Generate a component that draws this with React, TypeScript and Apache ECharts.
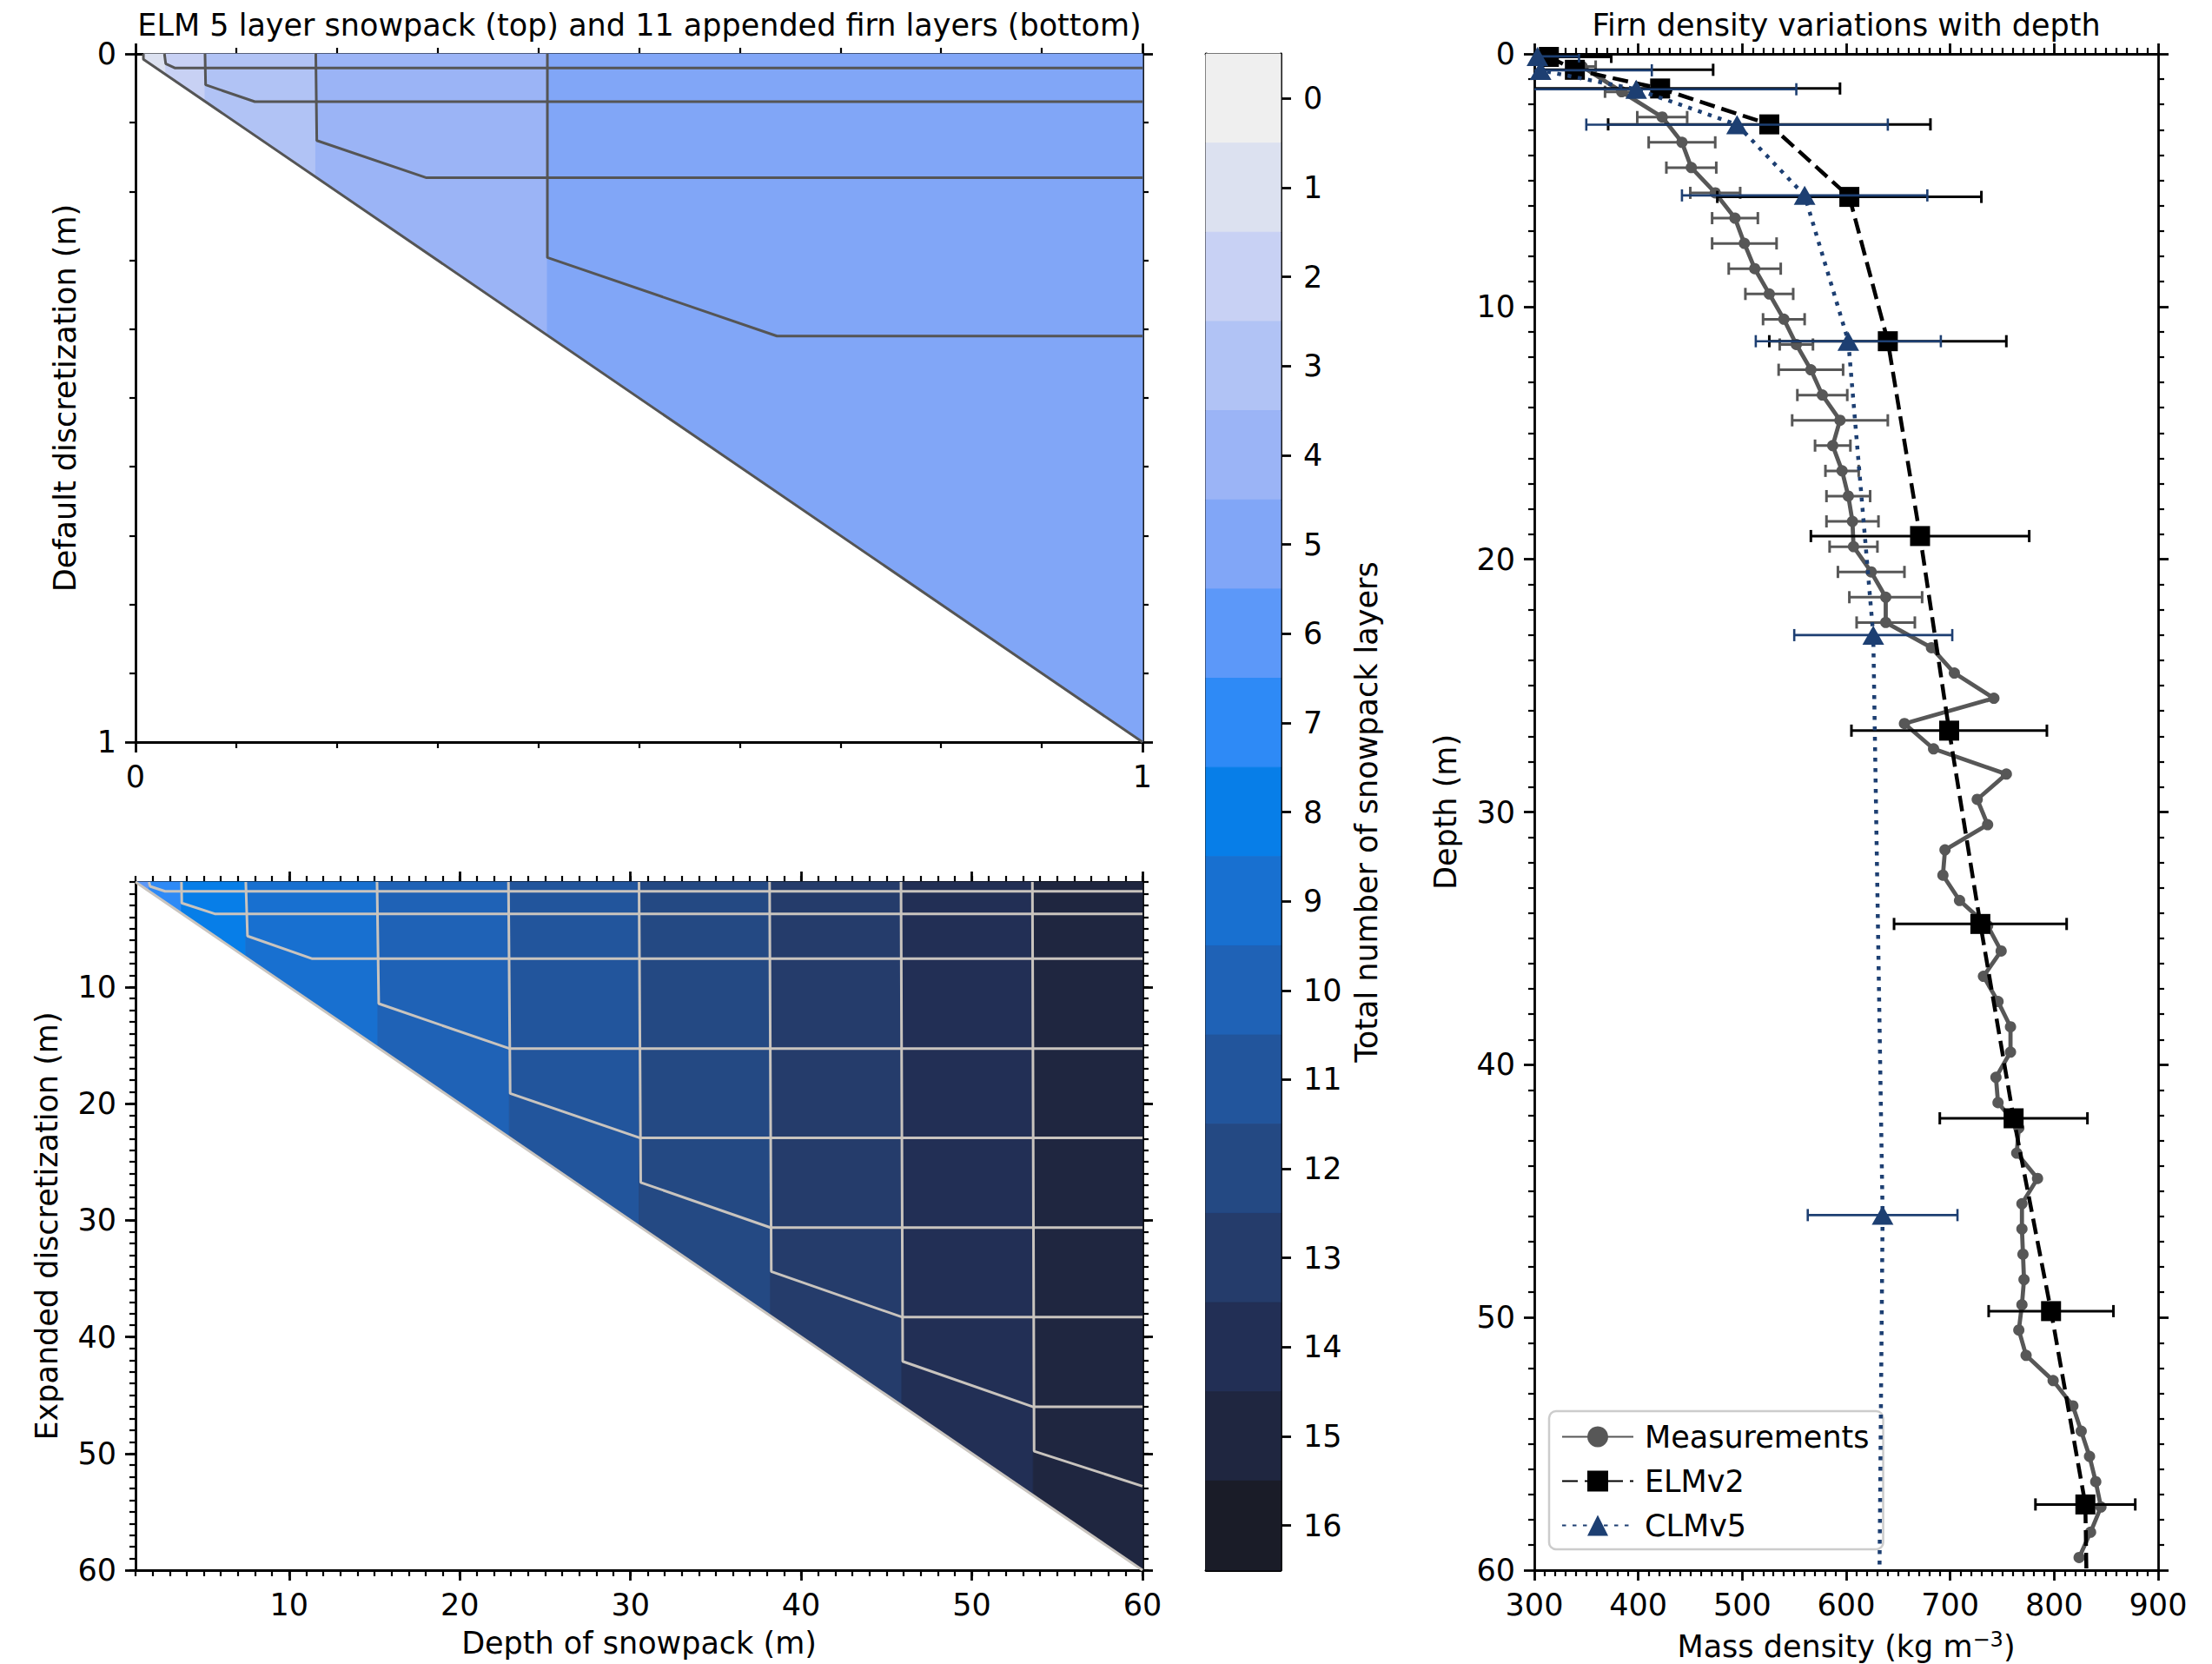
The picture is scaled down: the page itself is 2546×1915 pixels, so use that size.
import React, { useEffect, useRef } from "react";
import * as echarts from "echarts";

const W = 2546;
const H = 1915;
const FONT = "DejaVu Sans";

// ---------- colour scale (total number of snowpack layers) ----------
const LEVEL_COLORS = [
  "#efefef", "#dce1f0", "#c8d1f4", "#b1c3f5", "#9bb4f6", "#81a6f7", "#5c98f9",
  "#2e8af6", "#077ee8", "#1870d0", "#1f62b6", "#22559c", "#244983", "#253c6b",
  "#222f55", "#1f2640", "#1a1c28",
];
const COLORBAR_LEVELS = [0, 1, 2, 3, 4, 5, 6, 7, 8, 9, 10, 11, 12, 13, 14, 15, 16];

// ---------- top-left panel: default discretization ----------
const TOP_BOUNDS = [0.0078, 0.03, 0.069, 0.179, 0.409, 1];
const TOP_LEVELS = [1, 2, 3, 4, 5];
const TOP_INTERFACES = [
  [[0.0078, 0], [0.0078, 0.0078], [1, 1]],
  [[0.0287, 0], [0.03, 0.0143], [0.0394, 0.0206], [1, 0.0206]],
  [[0.069, 0], [0.0696, 0.045], [0.1185, 0.0695], [1, 0.0695]],
  [[0.179, 0], [0.18, 0.126], [0.289, 0.18], [1, 0.18]],
  [[0.409, 0], [0.409, 0.296], [0.637, 0.41], [1, 0.41]],
];

// ---------- bottom-left panel: expanded discretization ----------
const BOTTOM_BOUNDS = [1, 1.79, 3.69, 7.46, 15.2, 22.9, 30.5, 38.2, 45.9, 53.6, 60];
const BOTTOM_LEVELS = [6, 7, 8, 9, 10, 11, 12, 13, 14, 15];
const BOTTOM_INTERFACES = [
  [[1, 1], [60, 60]],
  [[1.79, 1], [1.85, 1.37], [2.73, 1.8], [60, 1.8]],
  [[3.69, 1], [3.71, 2.81], [5.64, 3.73], [60, 3.73]],
  [[7.46, 1], [7.56, 5.64], [11.36, 7.58], [60, 7.58]],
  [[15.15, 1], [15.25, 11.43], [22.9, 15.28], [60, 15.28]],
  [[22.85, 1], [22.95, 19.13], [30.53, 22.93], [60, 22.93]],
  [[30.5, 1], [30.6, 26.76], [38.2, 30.63], [60, 30.63]],
  [[38.15, 1], [38.25, 34.4], [45.9, 38.3], [60, 38.3]],
  [[45.85, 1], [45.95, 42.1], [53.6, 46.0], [60, 46.0]],
  [[53.55, 1], [53.65, 49.8], [60, 52.8]],
];
const BOTTOM_TICKS = [10, 20, 30, 40, 50, 60];

// ---------- right panel: firn density ----------
const MEAS_DEPTH = [
  0.5, 1.5, 2.5, 3.5, 4.5, 5.5, 6.5, 7.5, 8.5, 9.5, 10.5, 11.5, 12.5, 13.5, 14.5,
  15.5, 16.5, 17.5, 18.5, 19.5, 20.5, 21.5, 22.5, 23.5, 24.5, 25.5, 26.5, 27.5, 28.5,
  29.5, 30.5, 31.5, 32.5, 33.5, 34.5, 35.5, 36.5, 37.5, 38.5, 39.5, 40.5, 41.5, 42.5,
  43.5, 44.5, 45.5, 46.5, 47.5, 48.5, 49.5, 50.5, 51.5, 52.5, 53.5, 54.5, 55.5, 56.5,
  57.5, 58.5, 59.5,
];
const MEAS_DENSITY = [
  346, 384, 423, 442, 451, 474, 493, 502, 512, 526, 540, 552, 566, 577, 594,
  587, 596, 602, 606, 607, 624, 638, 638, 682, 704, 742, 656, 684, 754,
  726, 736, 695, 693, 709, 736, 749, 732, 746, 758, 758, 744, 746, 766,
  764, 784, 769, 769, 770, 771, 769, 766, 773, 799, 818, 826, 834, 840,
  845, 835, 824,
];
const MEAS_ERR = [
  13, 16, 24, 32, 24, 24, 22, 31, 25, 23, 20, 16, 31, 24, 46,
  17, 16, 21, 25, 23, 32, 35, 28, 0, 0, 0, 0, 0, 0,
  0, 0, 0, 0, 0, 0, 0, 0, 0, 0, 0, 0, 0, 0,
  0, 0, 0, 0, 0, 0, 0, 0, 0, 0, 0, 0, 0, 0,
  0, 0, 0,
];

const ELM_DEPTH = [0.12, 0.63, 1.37, 2.79, 5.66, 11.37, 19.08, 26.78, 34.43, 42.12, 49.75, 57.4];
const ELM_DENSITY = [314, 339, 421, 526, 603, 640, 671, 699, 729, 761, 797, 830];
const ELM_ERR = [60, 133, 173, 155, 127, 114, 105, 94, 83, 71, 60, 48];
const ELM_TAIL = [60, 831]; // [depth, density] where the dashed line meets the axis

const CLM_DEPTH = [0.1, 0.65, 1.4, 2.8, 5.6, 11.37, 23.0, 45.95];
const CLM_DENSITY = [303, 306, 398, 495, 560, 602, 626, 635];
const CLM_ERR = [40, 107, 154, 145, 118, 89, 76, 72];
const CLM_TAIL = [60, 632];

const MEAS_COLOR = "#575757";
const ELM_COLOR = "#000000";
const CLM_COLOR = "#1d3f72";

function buildOption(): any {
  const txt = { color: "#000", fontFamily: FONT, fontSize: 35 };
  const axisLine = { show: true, onZero: false, lineStyle: { color: "#000", width: 2.8 } };
  const majorTick = { show: true, length: 12, lineStyle: { color: "#000", width: 2.8 } };
  const minorTick = (n: number) => ({ show: true, splitNumber: n, length: 7, lineStyle: { color: "#000", width: 2.2 } });
  const base = { type: "value", splitLine: { show: false }, minorSplitLine: { show: false } };
  const hiddenLabel = { show: false };

  const grids = [
    { left: 156, top: 62, width: 1159, height: 792 },
    { left: 156, top: 1015, width: 1159, height: 792 },
    { left: 1388, top: 62, width: 86, height: 1745 },
    { left: 1766, top: 62, width: 718, height: 1745 },
  ].map((g) => ({ ...g, containLabel: false, outerBoundsMode: "none", show: false }));

  const xAxis: any[] = [
    // 0,1 : top-left panel
    { ...base, gridIndex: 0, position: "bottom", min: 0, max: 1, interval: 1, axisLine, axisTick: majorTick, minorTick: minorTick(10), axisLabel: { ...txt, margin: 22 } },
    { ...base, gridIndex: 0, position: "top", min: 0, max: 1, interval: 1, axisLine, axisTick: majorTick, minorTick: minorTick(10), axisLabel: hiddenLabel },
    // 2..5 : bottom-left panel
    {
      ...base, gridIndex: 1, position: "bottom", min: 1, max: 60, axisLine,
      axisTick: { ...majorTick, customValues: BOTTOM_TICKS },
      axisLabel: { ...txt, margin: 22, customValues: BOTTOM_TICKS },
      name: "Depth of snowpack (m)", nameLocation: "middle", nameGap: 66, nameTextStyle: txt,
    },
    { ...base, gridIndex: 1, position: "bottom", min: 1, max: 60, interval: 1, axisLine: { show: false, onZero: false }, axisTick: { show: true, length: 7, lineStyle: { color: "#000", width: 2.2 } }, axisLabel: hiddenLabel },
    { ...base, gridIndex: 1, position: "top", min: 1, max: 60, axisLine, axisTick: { ...majorTick, customValues: BOTTOM_TICKS }, axisLabel: hiddenLabel },
    { ...base, gridIndex: 1, position: "top", min: 1, max: 60, interval: 1, axisLine: { show: false, onZero: false }, axisTick: { show: true, length: 7, lineStyle: { color: "#000", width: 2.2 } }, axisLabel: hiddenLabel },
    // 6,7 : colour bar frame
    { ...base, gridIndex: 2, position: "bottom", min: 0, max: 1, axisLine, axisTick: { show: false }, axisLabel: hiddenLabel },
    { ...base, gridIndex: 2, position: "top", min: 0, max: 1, axisLine, axisTick: { show: false }, axisLabel: hiddenLabel },
    // 8,9 : right panel
    {
      ...base, gridIndex: 3, position: "bottom", min: 300, max: 900, interval: 100, axisLine, axisTick: majorTick, minorTick: minorTick(10),
      axisLabel: { ...txt, margin: 22 },
      name: "Mass density (kg m{sup|\u22123})", nameLocation: "middle", nameGap: 68,
      nameTextStyle: { ...txt, lineHeight: 40, rich: { sup: { fontFamily: FONT, fontSize: 24, color: "#000", verticalAlign: "top", lineHeight: 24 } } },
    },
    { ...base, gridIndex: 3, position: "top", min: 300, max: 900, interval: 100, axisLine, axisTick: majorTick, minorTick: minorTick(10), axisLabel: hiddenLabel },
  ];

  const yAxis: any[] = [
    // 0,1 : top-left panel
    {
      ...base, gridIndex: 0, position: "left", min: 0, max: 1, interval: 1, inverse: true, axisLine, axisTick: majorTick, minorTick: minorTick(10),
      axisLabel: { ...txt, margin: 22 },
      name: "Default discretization (m)", nameLocation: "middle", nameRotate: 90, nameGap: 64, nameTextStyle: txt,
    },
    { ...base, gridIndex: 0, position: "right", min: 0, max: 1, interval: 1, inverse: true, axisLine, axisTick: majorTick, minorTick: minorTick(10), axisLabel: hiddenLabel },
    // 2..5 : bottom-left panel
    {
      ...base, gridIndex: 1, position: "left", min: 1, max: 60, inverse: true, axisLine,
      axisTick: { ...majorTick, customValues: BOTTOM_TICKS },
      axisLabel: { ...txt, margin: 22, customValues: BOTTOM_TICKS },
      name: "Expanded discretization (m)", nameLocation: "middle", nameRotate: 90, nameGap: 85, nameTextStyle: txt,
    },
    { ...base, gridIndex: 1, position: "left", min: 1, max: 60, interval: 1, inverse: true, axisLine: { show: false, onZero: false }, axisTick: { show: true, length: 7, lineStyle: { color: "#000", width: 2.2 } }, axisLabel: hiddenLabel },
    { ...base, gridIndex: 1, position: "right", min: 1, max: 60, inverse: true, axisLine, axisTick: { ...majorTick, customValues: BOTTOM_TICKS }, axisLabel: hiddenLabel },
    { ...base, gridIndex: 1, position: "right", min: 1, max: 60, interval: 1, inverse: true, axisLine: { show: false, onZero: false }, axisTick: { show: true, length: 7, lineStyle: { color: "#000", width: 2.2 } }, axisLabel: hiddenLabel },
    // 6,7 : colour bar
    {
      ...base, gridIndex: 2, position: "right", min: -0.5, max: 16.5, inverse: true, axisLine,
      axisTick: { ...majorTick, customValues: COLORBAR_LEVELS },
      axisLabel: { ...txt, margin: 26, customValues: COLORBAR_LEVELS },
      name: "Total number of snowpack layers", nameLocation: "middle", nameRotate: 90, nameGap: 81, nameTextStyle: txt,
    },
    { ...base, gridIndex: 2, position: "left", min: -0.5, max: 16.5, inverse: true, axisLine, axisTick: { show: false }, axisLabel: hiddenLabel },
    // 8,9 : right panel
    {
      ...base, gridIndex: 3, position: "left", min: 0, max: 60, interval: 10, inverse: true, axisLine, axisTick: majorTick, minorTick: minorTick(10),
      axisLabel: { ...txt, margin: 22 },
      name: "Depth (m)", nameLocation: "middle", nameRotate: 90, nameGap: 85, nameTextStyle: txt,
    },
    { ...base, gridIndex: 3, position: "right", min: 0, max: 60, interval: 10, inverse: true, axisLine, axisTick: majorTick, minorTick: minorTick(10), axisLabel: hiddenLabel },
  ];

  const fillRender = (yTop: number) => (params: any, api: any) => {
    const x0 = api.value(0);
    const x1 = api.value(1);
    const lev = api.value(2);
    const pts = [api.coord([x0, yTop]), api.coord([x1, yTop]), api.coord([x1, x1]), api.coord([x0, x0])];
    const c = LEVEL_COLORS[lev];
    return { type: "polygon", shape: { points: pts }, style: { fill: c, stroke: c, lineWidth: 1 } };
  };

  const errRender = (color: string, lw: number, cap: number) => (params: any, api: any) => {
    const a = api.coord([api.value(0), api.value(2)]);
    const b = api.coord([api.value(1), api.value(2)]);
    const st = { stroke: color, lineWidth: lw };
    return {
      type: "group",
      children: [
        { type: "line", shape: { x1: a[0], y1: a[1], x2: b[0], y2: b[1] }, style: st },
        { type: "line", shape: { x1: a[0], y1: a[1] - cap, x2: a[0], y2: a[1] + cap }, style: st },
        { type: "line", shape: { x1: b[0], y1: b[1] - cap, x2: b[0], y2: b[1] + cap }, style: st },
      ],
    };
  };

  const series: any[] = [];

  // top-left fills and interfaces
  series.push({
    type: "custom", xAxisIndex: 0, yAxisIndex: 0, z: 1, silent: true,
    data: TOP_LEVELS.map((lev, i) => [TOP_BOUNDS[i], TOP_BOUNDS[i + 1], lev]),
    renderItem: fillRender(0),
  });
  TOP_INTERFACES.forEach((pts, i) => {
    series.push({
      type: "line", name: "top-if-" + i, xAxisIndex: 0, yAxisIndex: 0, z: 2, silent: true,
      data: pts, symbol: "none", lineStyle: { color: "#555555", width: 3 },
    });
  });

  // bottom-left fills and interfaces
  series.push({
    type: "custom", xAxisIndex: 2, yAxisIndex: 2, z: 1, silent: true,
    data: BOTTOM_LEVELS.map((lev, i) => [BOTTOM_BOUNDS[i], BOTTOM_BOUNDS[i + 1], lev]),
    renderItem: fillRender(1),
  });
  BOTTOM_INTERFACES.forEach((pts, i) => {
    series.push({
      type: "line", name: "bot-if-" + i, xAxisIndex: 2, yAxisIndex: 2, z: 2, silent: true,
      data: pts, symbol: "none", lineStyle: { color: "#c9c4be", width: 3 },
    });
  });

  // colour bar
  series.push({
    type: "custom", xAxisIndex: 6, yAxisIndex: 6, z: 1, silent: true,
    data: COLORBAR_LEVELS.map((l) => [l]),
    renderItem: (params: any, api: any) => {
      const l = api.value(0);
      const p0 = api.coord([0, l - 0.5]);
      const p1 = api.coord([1, l + 0.5]);
      const c = LEVEL_COLORS[l];
      return {
        type: "rect",
        shape: { x: p0[0], y: Math.min(p0[1], p1[1]), width: p1[0] - p0[0], height: Math.abs(p1[1] - p0[1]) },
        style: { fill: c, stroke: c, lineWidth: 1 },
      };
    },
  });

  // right panel
  const measErr = MEAS_DEPTH.map((d, i) => [MEAS_DENSITY[i] - MEAS_ERR[i], MEAS_DENSITY[i] + MEAS_ERR[i], d]).filter((r, i) => MEAS_ERR[i] > 0);
  const elmErr = ELM_DEPTH.map((d, i) => [ELM_DENSITY[i] - ELM_ERR[i], ELM_DENSITY[i] + ELM_ERR[i], d]);
  const clmErr = CLM_DEPTH.map((d, i) => [CLM_DENSITY[i] - CLM_ERR[i], CLM_DENSITY[i] + CLM_ERR[i], d]);

  series.push({
    type: "custom", name: "meas-err", xAxisIndex: 8, yAxisIndex: 8, z: 3, clip: true, silent: true,
    data: measErr, encode: { x: [0, 1], y: 2 }, renderItem: errRender(MEAS_COLOR, 3, 7),
  });
  series.push({
    type: "line", name: "Measurements", xAxisIndex: 8, yAxisIndex: 8, z: 4, silent: true,
    data: MEAS_DEPTH.map((d, i) => [MEAS_DENSITY[i], d]),
    symbol: "circle", symbolSize: 13, showSymbol: true,
    itemStyle: { color: MEAS_COLOR }, lineStyle: { color: MEAS_COLOR, width: 4.8 },
  });
  series.push({
    type: "custom", name: "elm-err", xAxisIndex: 8, yAxisIndex: 8, z: 5, clip: true, silent: true,
    data: elmErr, encode: { x: [0, 1], y: 2 }, renderItem: errRender(ELM_COLOR, 3, 7),
  });
  series.push({
    type: "line", name: "ELMv2", xAxisIndex: 8, yAxisIndex: 8, z: 6, silent: true,
    data: [
      ...ELM_DEPTH.map((d, i) => [ELM_DENSITY[i], d]),
      { value: [ELM_TAIL[1], ELM_TAIL[0]], symbol: "none" },
    ],
    symbol: "rect", symbolSize: 23, showSymbol: true,
    itemStyle: { color: ELM_COLOR }, lineStyle: { color: ELM_COLOR, width: 4.5, type: [18, 8] },
  });
  series.push({
    type: "custom", name: "clm-err", xAxisIndex: 8, yAxisIndex: 8, z: 7, clip: true, silent: true,
    data: clmErr, encode: { x: [0, 1], y: 2 }, renderItem: errRender(CLM_COLOR, 2.6, 7),
  });
  series.push({
    type: "line", name: "CLMv5", xAxisIndex: 8, yAxisIndex: 8, z: 8, silent: true,
    data: [
      ...CLM_DEPTH.map((d, i) => [CLM_DENSITY[i], d]),
      { value: [CLM_TAIL[1], CLM_TAIL[0]], symbol: "none" },
    ],
    symbol: "triangle", symbolSize: [25, 22], showSymbol: true,
    itemStyle: { color: CLM_COLOR }, lineStyle: { color: CLM_COLOR, width: 4.5, type: [4.5, 7.5], cap: "butt" },
  });

  return {
    animation: false,
    backgroundColor: "#ffffff",
    textStyle: { fontFamily: FONT },
    title: [
      { text: "ELM 5 layer snowpack (top) and 11 appended firn layers (bottom)", left: 736, top: 11, textAlign: "center", padding: 0, textStyle: { ...txt, fontWeight: "normal" } },
      { text: "Firn density variations with depth", left: 2125, top: 11, textAlign: "center", padding: 0, textStyle: { ...txt, fontWeight: "normal" } },
    ],
    legend: {
      data: ["Measurements", "ELMv2", "CLMv5"],
      orient: "vertical", left: 1783, top: 1624,
      itemWidth: 82, itemHeight: 30, itemGap: 16,
      padding: [12, 16, 10, 14],
      backgroundColor: "rgba(255,255,255,0.85)",
      borderColor: "#cccccc", borderWidth: 2.5, borderRadius: 8,
      textStyle: { ...txt, padding: [0, 0, 0, 8] },
      selectedMode: false,
    },
    grid: grids,
    xAxis,
    yAxis,
    series,
  };
}

export default function App() {
  const ref = useRef<HTMLDivElement>(null);
  useEffect(() => {
    if (!ref.current) return;
    const chart = echarts.init(ref.current, undefined, { renderer: "svg", width: W, height: H });
    chart.setOption(buildOption());
    return () => chart.dispose();
  }, []);
  return <div ref={ref} style={{ position: "absolute", left: 0, top: 0, width: W, height: H, background: "#fff" }} />;
}
